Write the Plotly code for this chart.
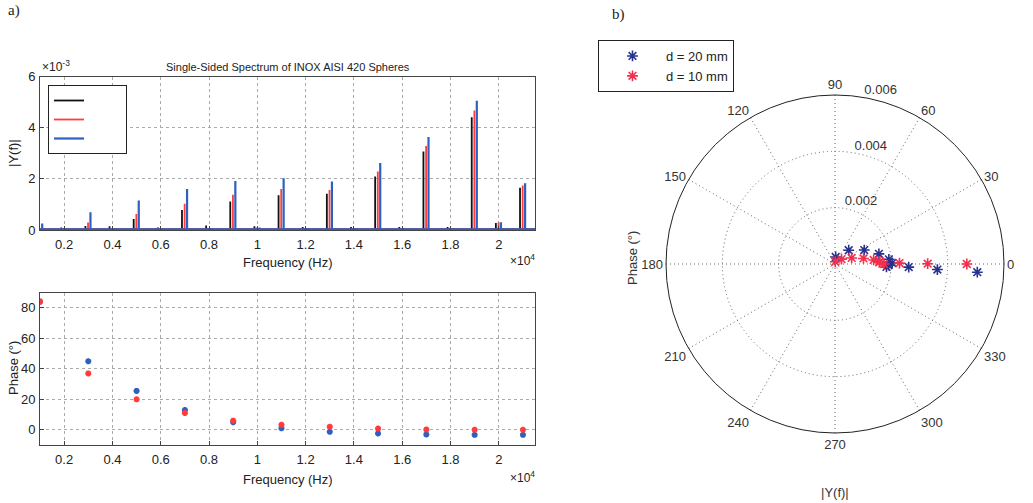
import plotly.graph_objects as go

# ---------------- data ----------------
harmonic_freqs = [1000, 3000, 5000, 7000, 9000, 11000, 13000, 15000, 17000, 19000, 21000]
even_freqs = [2000, 4000, 6000, 8000, 10000, 12000, 14000, 16000, 18000, 20000]

# spectrum peak amplitudes |Y(f)| at odd harmonics
black_peaks = [0.00005, 0.00016, 0.00043, 0.00078, 0.00112, 0.00136, 0.00142, 0.00209, 0.00307, 0.00441, 0.00165]
red_peaks = [0.00008, 0.00029, 0.00063, 0.00103, 0.00138, 0.00160, 0.00157, 0.00229, 0.00329, 0.00468, 0.00174]
blue_peaks = [0.00025, 0.00069, 0.00115, 0.00160, 0.00192, 0.00203, 0.00190, 0.00262, 0.00364, 0.00506, 0.00183]

# small peaks at even harmonics
black_even = [0.00010, 0.00015, 0.00010, 0.00018, 0.00015, 0.00012, 0.00012, 0.00012, 0.00012, 0.00027]
red_even = [0.00004, 0.00005, 0.00004, 0.00006, 0.00010, 0.00005, 0.00006, 0.00006, 0.00006, 0.00030]
blue_even = [0.00004, 0.00005, 0.00005, 0.00008, 0.00010, 0.00008, 0.00006, 0.00008, 0.00006, 0.00030]

# frequency shift of each record's peaks (Hz)
black_shift = -120
red_shift = -10
blue_shift = 90

noise_floor = [0.00002, 0.00002, 0.00003]

# phase (degrees) at odd harmonics
blue_phase = [84.3, 45.0, 25.5, 13.0, 5.0, 1.0, -1.3, -2.4, -3.1, -3.3, -3.3]
red_phase = [84.0, 37.0, 20.0, 11.0, 6.0, 3.3, 2.0, 0.8, 0.2, 0.0, 0.0]

freq_tickvals = [2000, 4000, 6000, 8000, 10000, 12000, 14000, 16000, 18000, 20000]
freq_ticktext = ["0.2", "0.4", "0.6", "0.8", "1", "1.2", "1.4", "1.6", "1.8", "2"]
amp_tickvals = [0, 0.002, 0.004, 0.006]
amp_ticktext = ["0", "2", "4", "6"]
phase_tickvals = [0, 20, 40, 60, 80]
polar_r_tickvals = [0.002, 0.004, 0.006]
polar_r_ticktext = ["0.002", "0.004", "0.006"]
polar_r_label_angle = 80
polar_theta_tickvals = [0, 30, 60, 90, 120, 150, 180, 210, 240, 270, 300, 330]

X_MIN, X_MAX = 1000, 21500

BLACK = "#111111"
RED = "#ff3b3b"
BLUE = "#2f5fbf"
POLAR_BLUE = "#27328f"
POLAR_RED = "#f2304d"
FONT = "Liberation Sans, Arial, sans-serif"


def spectrum_trace(peaks, even, shift, floor, color, width):
    xs, ys = [X_MIN, X_MAX, None], [floor, floor, None]
    for f, v in zip(harmonic_freqs, peaks):
        xs += [f + shift, f + shift, None]
        ys += [0, v, None]
    for f, v in zip(even_freqs, even):
        xs += [f + shift, f + shift, None]
        ys += [0, v, None]
    return go.Scatter(x=xs, y=ys, mode="lines", line=dict(color=color, width=width),
                      name="\u00a0" * 16, legend="legend2", xaxis="x", yaxis="y",
                      connectgaps=False, hoverinfo="skip")


def star(color, size, width):
    return dict(symbol="asterisk-open", size=size, color=color, line=dict(color=color, width=width))


fig = go.Figure()
fig.add_trace(spectrum_trace(black_peaks, black_even, black_shift, noise_floor[0], BLACK, 1.8))
fig.add_trace(spectrum_trace(red_peaks, red_even, red_shift, noise_floor[1], RED, 1.8))
fig.add_trace(spectrum_trace(blue_peaks, blue_even, blue_shift, noise_floor[2], BLUE, 2.2))

# phase plot
fig.add_trace(go.Scatter(x=harmonic_freqs, y=blue_phase, mode="markers", xaxis="x2", yaxis="y2",
                         marker=star(BLUE, 5, 2.0), showlegend=False))
fig.add_trace(go.Scatter(x=harmonic_freqs, y=red_phase, mode="markers", xaxis="x2", yaxis="y2",
                         marker=star(RED, 5, 2.0), showlegend=False))

# polar plot
fig.add_trace(go.Scatterpolar(r=blue_peaks, theta=blue_phase, mode="markers", name="d = 20 mm",
                              marker=star(POLAR_BLUE, 9, 1.6), legend="legend"))
fig.add_trace(go.Scatterpolar(r=red_peaks, theta=red_phase, mode="markers", name="d = 10 mm",
                              marker=star(POLAR_RED, 9, 1.6), legend="legend"))
# radial tick labels, placed beside the radial ticks as in MATLAB's polar()
fig.add_trace(go.Scatterpolar(r=polar_r_tickvals, theta=[polar_r_label_angle] * len(polar_r_tickvals),
                              mode="text", text=polar_r_ticktext, textposition="top right",
                              textfont=dict(family=FONT, size=13, color="#333"),
                              showlegend=False, hoverinfo="skip", cliponaxis=False))

axis_common = dict(showline=True, linecolor="#444", linewidth=1, mirror=True, ticks="inside",
                   ticklen=4, tickcolor="#444", showgrid=True, gridcolor="#aaaaaa", griddash="dot",
                   zeroline=False, automargin=False,
                   tickfont=dict(family=FONT, size=13, color="#222"))
xstand = dict(ticklabelstandoff=2)
ystand = dict(ticklabelstandoff=1)

fig.update_layout(
    width=1033, height=503,
    margin=dict(l=0, r=0, t=0, b=0),
    paper_bgcolor="white", plot_bgcolor="white",
    font=dict(family=FONT, size=12, color="#222"),
    xaxis=dict(domain=[40 / 1033, 535 / 1033], range=[X_MIN, X_MAX], tickvals=freq_tickvals,
               ticktext=freq_ticktext, anchor="y", **axis_common, **xstand),
    yaxis=dict(domain=[1 - 230 / 503, 1 - 76.7 / 503], range=[0, 0.006], tickvals=amp_tickvals,
               ticktext=amp_ticktext, anchor="x", **axis_common, **ystand),
    xaxis2=dict(domain=[40 / 1033, 535 / 1033], range=[X_MIN, X_MAX], tickvals=freq_tickvals,
                ticktext=freq_ticktext, anchor="y2", **axis_common, **xstand),
    yaxis2=dict(domain=[1 - 445 / 503, 1 - 292.7 / 503], range=[-10, 90], tickvals=phase_tickvals,
                anchor="x2", **axis_common, **ystand),
    polar=dict(
        domain=dict(x=[(835 - 169) / 1033, (835 + 169) / 1033], y=[(239 - 169) / 503, (239 + 169) / 503]),
        bgcolor="white",
        angularaxis=dict(rotation=0, direction="counterclockwise", tickvals=polar_theta_tickvals,
                         ticks="", showline=True, linecolor="#222", linewidth=1,
                         gridcolor="#666", griddash="1px,3px", gridwidth=1,
                         tickfont=dict(family=FONT, size=13, color="#333")),
        radialaxis=dict(range=[0, 0.006], tickvals=polar_r_tickvals, showticklabels=False,
                        showline=False, ticks="", angle=polar_r_label_angle,
                        gridcolor="#666", griddash="1px,3px", gridwidth=1),
    ),
    legend=dict(x=598 / 1033, y=1 - 40 / 503, xanchor="left", yanchor="top", bordercolor="#222",
                borderwidth=1, bgcolor="white", font=dict(family=FONT, size=13, color="#222"),
                itemwidth=57),
    legend2=dict(x=48 / 1033, y=1 - 85 / 503, xanchor="left", yanchor="top", bordercolor="#222",
                 borderwidth=1, bgcolor="white", font=dict(family=FONT, size=7, color="#222"),
                 itemwidth=30, tracegroupgap=0),
)

ann = [
    dict(text="a)", x=6, y=10, font=dict(family="Liberation Serif, Times New Roman, serif", size=15)),
    dict(text="b)", x=610, y=14, font=dict(family="Liberation Serif, Times New Roman, serif", size=15)),
    dict(text="Single-Sided Spectrum of INOX AISI 420 Spheres", x=288, y=67, xanchor="center",
         font=dict(family=FONT, size=11)),
    dict(text="×10<sup>-3</sup>", x=40, y=66, font=dict(family=FONT, size=12)),
    dict(text="Frequency (Hz)", x=288, y=262, xanchor="center", font=dict(family=FONT, size=13)),
    dict(text="×10<sup>4</sup>", x=537, y=260, xanchor="right", font=dict(family=FONT, size=12)),
    dict(text="Frequency (Hz)", x=288, y=479, xanchor="center", font=dict(family=FONT, size=13)),
    dict(text="×10<sup>4</sup>", x=537, y=477, xanchor="right", font=dict(family=FONT, size=12)),
    dict(text="|Y(f)|", x=13, y=153, xanchor="center", textangle=-90, font=dict(family=FONT, size=13)),
    dict(text="Phase (°)", x=13, y=368, xanchor="center", textangle=-90, font=dict(family=FONT, size=13)),
    dict(text="Phase (°)", x=632, y=258, xanchor="center", textangle=-90, font=dict(family=FONT, size=13, color="#333")),
    dict(text="|Y(f)|", x=835, y=492, xanchor="center", font=dict(family=FONT, size=13, color="#333")),
]
for a in ann:
    a.setdefault("xanchor", "left")
    fig.add_annotation(xref="paper", yref="paper", x=a.pop("x") / 1033, y=1 - a.pop("y") / 503,
                       yanchor="middle", showarrow=False, **a)

fig.write_html("out.html", config={"displayModeBar": False},
               post_script="document.body.style.margin='0';document.body.style.padding='0';")
